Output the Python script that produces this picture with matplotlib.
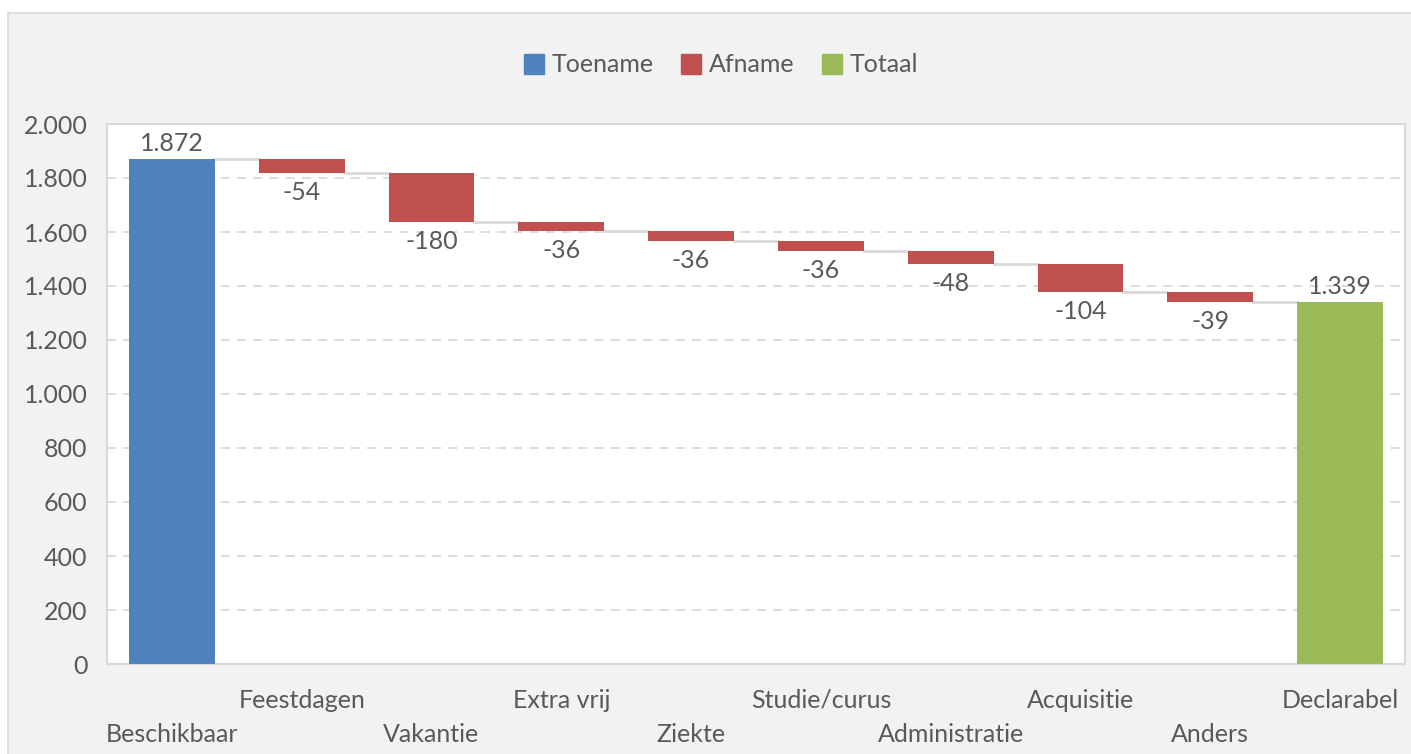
import matplotlib
matplotlib.use("Agg")
import matplotlib.pyplot as plt
from matplotlib.patches import Rectangle
from matplotlib.lines import Line2D
import numpy as np

categories = ["Beschikbaar", "Feestdagen", "Vakantie", "Extra vrij", "Ziekte",
              "Studie/curus", "Administratie", "Acquisitie", "Anders", "Declarabel"]
start_total = 1872
changes = [-54, -180, -36, -36, -36, -48, -104, -39]
end_total = 1339
yticks = [0, 200, 400, 600, 800, 1000, 1200, 1400, 1600, 1800, 2000]

BLUE = "#4f81bd"
RED = "#c0504d"
GREEN = "#9bbb59"
TXT = "#595959"
GRID = "#d9d9d9"
FS = 18

plt.rcParams['font.family'] = ['Lato', 'DejaVu Sans']

W, H = 1411, 754
fig = plt.figure(figsize=(W/100, H/100), dpi=100)
fig.patch.set_facecolor("white")
bg = Rectangle((8/W, -0.01), 1.0, 1.01 - 13/H, transform=fig.transFigure,
               facecolor="#f2f2f2", edgecolor="#d9d9d9", linewidth=1.2, zorder=-5)
fig.patches.append(bg)

ax = fig.add_axes([107/W, 1 - 664/H, (1405-107)/W, (664-124)/H])
ax.set_zorder(1)
ax.set_facecolor("white")
ax.set_xlim(-0.5, len(categories) - 0.5)
ax.set_ylim(0, 2000)

bw = 0.66
fmt = lambda v: f"{abs(v):,}".replace(",", ".")

# start bar
ax.bar(0, start_total, width=bw, color=BLUE, zorder=3)
ax.annotate(fmt(start_total), xy=(0, start_total), xytext=(0, 4), textcoords="offset pixels",
            ha="center", va="bottom", fontsize=FS, color=TXT)

level = start_total
for i, c in enumerate(changes, start=1):
    new = level + c
    ax.bar(i, -c, bottom=new, width=bw, color=RED, zorder=3)
    ax.plot([i - 1 + bw/2, i - bw/2], [level, level], color=GRID, lw=2, zorder=2)
    ax.annotate("-" + str(abs(c)), xy=(i, new), xytext=(0, -8), textcoords="offset pixels",
                ha="center", va="top", fontsize=FS, color=TXT)
    level = new

n = len(categories) - 1
ax.plot([n - 1 + bw/2, n - bw/2], [level, level], color=GRID, lw=2, zorder=2)
ax.bar(n, end_total, width=bw, color=GREEN, zorder=3)
ax.annotate(fmt(end_total), xy=(n, end_total), xytext=(0, 4), textcoords="offset pixels",
            ha="center", va="bottom", fontsize=FS, color=TXT)

ax.set_yticks(yticks)
ax.set_yticklabels([fmt(v) for v in yticks], fontsize=FS, color=TXT)
ax.yaxis.grid(True, linestyle=(0, (5, 4)), color=GRID, lw=1.3, zorder=0)
ax.set_axisbelow(True)
ax.tick_params(axis="y", length=0, pad=14)
ax.set_xticks(range(len(categories)))
ax.set_xticklabels([])
ax.tick_params(axis="x", length=0)
for i, name in enumerate(categories):
    off = -36 if i % 2 == 1 else -70
    ax.annotate(name, xy=(i, 0), xycoords="data", xytext=(0, off), textcoords="offset pixels",
                ha="center", va="center", fontsize=FS, color=TXT, annotation_clip=False)

for s in ax.spines.values():
    s.set_color(GRID)
    s.set_linewidth(1.5)

handles = [Line2D([], [], marker="s", linestyle="", markersize=14, color=c) for c in (BLUE, RED, GREEN)]
fig.legend(handles, ["Toename", "Afname", "Totaal"], loc="center", bbox_to_anchor=(0.51, 1 - 65/H),
           ncol=3, frameon=False, fontsize=FS, labelcolor=TXT, handletextpad=0.2,
           columnspacing=1.0, handlelength=1.0)

fig.savefig("out.png", dpi=100, facecolor=fig.get_facecolor())
